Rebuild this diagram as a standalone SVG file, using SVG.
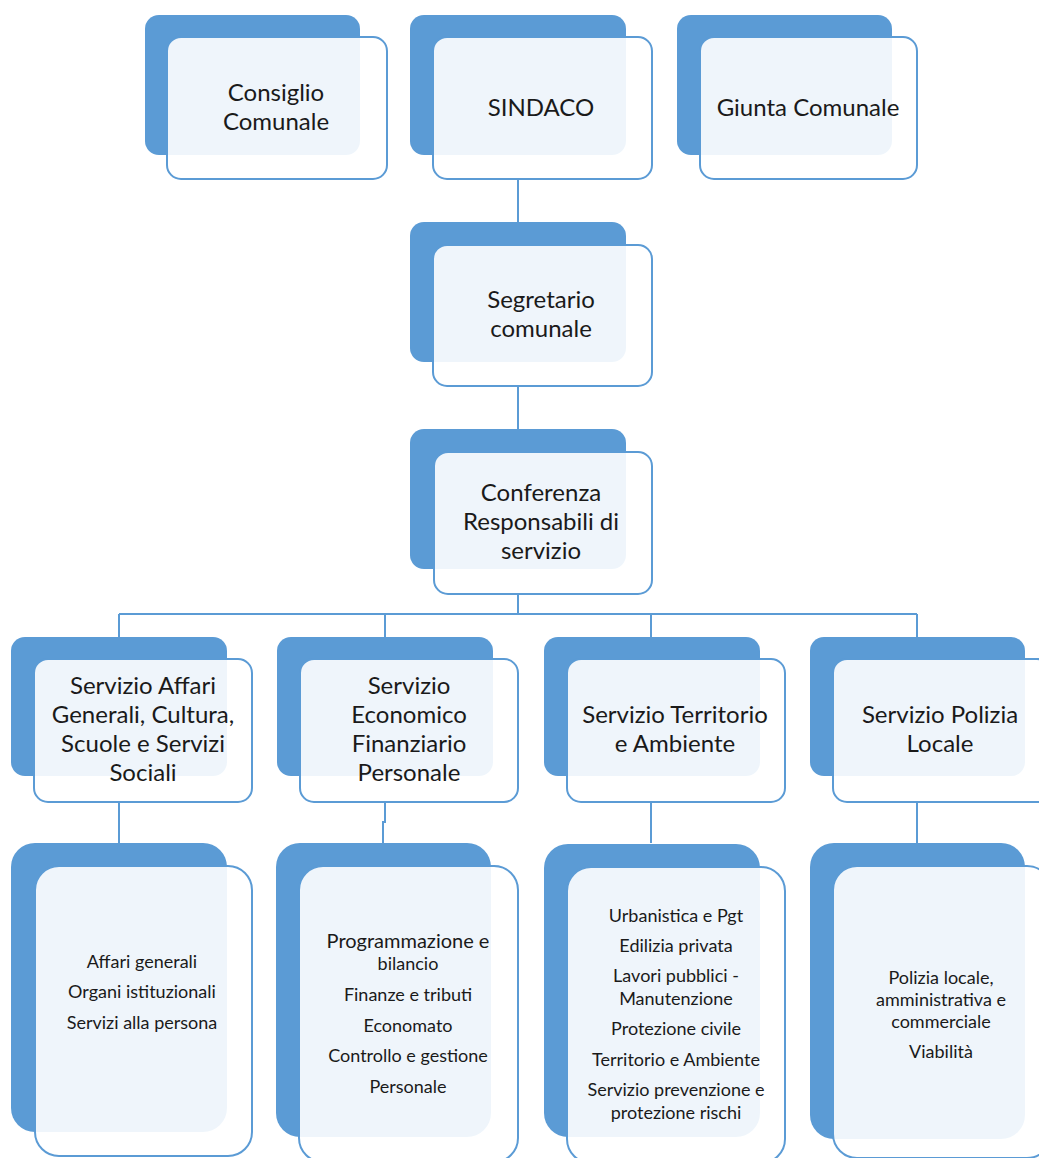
<svg xmlns="http://www.w3.org/2000/svg" width="1039" height="1158" viewBox="0 0 1039 1158">
<style>
.back{fill:#5B9BD5}
.front{fill:#ffffff;fill-opacity:0.9;stroke:#5B9BD5;stroke-width:2}
.conn{fill:none;stroke:#5B9BD5;stroke-width:2}
.t{font-family:Lato,"Liberation Sans",sans-serif;font-size:24px;fill:#1a1a1a;text-anchor:middle}
.s{font-family:Lato,"Liberation Sans",sans-serif;font-size:18px;fill:#1a1a1a;text-anchor:middle}
.sb{font-size:20px}
</style>
<rect width="1039" height="1158" fill="#ffffff"/>
<g id="connectors">
<path class="conn" d="M518 179V245M518 386V452M518 594V614M119 614H917M119 614V637M385 614V637M651 614V637M917 614V637"/>
<path class="conn" d="M119 802V843M385 802V822H383V843M651 802V843M917 802V843"/>
</g>
<g id="consiglio">
<rect class="back" x="145" y="15" width="215" height="140" rx="14"/>
<rect class="front" x="167" y="37" width="220" height="142" rx="14"/>
<text class="t" x="276" y="101">Consiglio</text>
<text class="t" x="276" y="130">Comunale</text>
</g>
<g id="sindaco">
<rect class="back" x="410" y="15" width="216" height="140" rx="14"/>
<rect class="front" x="433" y="37" width="219" height="142" rx="14"/>
<text class="t" x="541" y="116">SINDACO</text>
</g>
<g id="giunta">
<rect class="back" x="677" y="15" width="215" height="140" rx="14"/>
<rect class="front" x="700" y="37" width="217" height="142" rx="14"/>
<text class="t" x="808" y="116">Giunta Comunale</text>
</g>
<g id="segretario">
<rect class="back" x="410" y="222" width="216" height="140" rx="14"/>
<rect class="front" x="433" y="245" width="219" height="141" rx="14"/>
<text class="t" x="541" y="308">Segretario</text>
<text class="t" x="541" y="337">comunale</text>
</g>
<g id="conferenza">
<rect class="back" x="410" y="429" width="216" height="140" rx="14"/>
<rect class="front" x="434" y="452" width="218" height="142" rx="14"/>
<text class="t" x="541" y="501">Conferenza</text>
<text class="t" x="541" y="530">Responsabili di</text>
<text class="t" x="541" y="559">servizio</text>
</g>
<g id="serv-affari">
<rect class="back" x="11" y="637" width="216" height="139" rx="14"/>
<rect class="front" x="34" y="659" width="218" height="143" rx="14"/>
<text class="t" x="143" y="694">Servizio Affari</text>
<text class="t" x="143" y="723">Generali, Cultura,</text>
<text class="t" x="143" y="752">Scuole e Servizi</text>
<text class="t" x="143" y="781">Sociali</text>
</g>
<g id="serv-economico">
<rect class="back" x="277" y="637" width="216" height="139" rx="14"/>
<rect class="front" x="300" y="659" width="218" height="143" rx="14"/>
<text class="t" x="409" y="694">Servizio</text>
<text class="t" x="409" y="723">Economico</text>
<text class="t" x="409" y="752">Finanziario</text>
<text class="t" x="409" y="781">Personale</text>
</g>
<g id="serv-territorio">
<rect class="back" x="544" y="637" width="216" height="139" rx="14"/>
<rect class="front" x="567" y="659" width="218" height="143" rx="14"/>
<text class="t" x="675" y="723">Servizio Territorio</text>
<text class="t" x="675" y="752">e Ambiente</text>
</g>
<g id="serv-polizia">
<rect class="back" x="810" y="637" width="215" height="139" rx="14"/>
<rect class="front" x="833" y="659" width="218" height="143" rx="14"/>
<text class="t" x="940" y="723">Servizio Polizia</text>
<text class="t" x="940" y="752">Locale</text>
</g>
<g id="uff-affari">
<rect class="back" x="11" y="843" width="216" height="289" rx="24"/>
<rect class="front" x="35" y="866" width="217" height="290" rx="24"/>
<text class="s" x="142" y="968">Affari generali</text>
<text class="s" x="142" y="998">Organi istituzionali</text>
<text class="s" x="142" y="1029">Servizi alla persona</text>
</g>
<g id="uff-economico">
<rect class="back" x="276" y="843" width="215" height="294" rx="24"/>
<rect class="front" x="299" y="866" width="219" height="296" rx="24"/>
<text class="s sb" x="408" y="948">Programmazione e</text>
<text class="s" x="408" y="970">bilancio</text>
<text class="s" x="408" y="1001">Finanze e tributi</text>
<text class="s" x="408" y="1032">Economato</text>
<text class="s" x="408" y="1062">Controllo e gestione</text>
<text class="s" x="408" y="1093">Personale</text>
</g>
<g id="uff-territorio">
<rect class="back" x="544" y="844" width="216" height="293" rx="24"/>
<rect class="front" x="567" y="867" width="218" height="296" rx="24"/>
<text class="s" x="676" y="922">Urbanistica e Pgt</text>
<text class="s" x="676" y="952">Edilizia privata</text>
<text class="s" x="676" y="982">Lavori pubblici -</text>
<text class="s" x="676" y="1005">Manutenzione</text>
<text class="s" x="676" y="1035">Protezione civile</text>
<text class="s" x="676" y="1066">Territorio e Ambiente</text>
<text class="s" x="676" y="1096">Servizio prevenzione e</text>
<text class="s" x="676" y="1119">protezione rischi</text>
</g>
<g id="uff-polizia">
<rect class="back" x="810" y="843" width="215" height="296" rx="24"/>
<rect class="front" x="833" y="866" width="218" height="292" rx="24"/>
<text class="s" x="941" y="984">Polizia locale,</text>
<text class="s" x="941" y="1006">amministrativa e</text>
<text class="s" x="941" y="1028">commerciale</text>
<text class="s" x="941" y="1058">Viabilità</text>
</g>
</svg>
